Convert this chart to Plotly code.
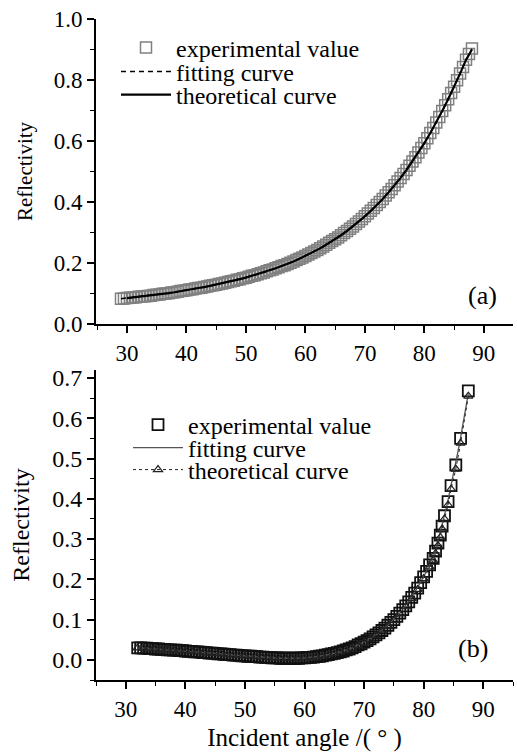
import numpy as np
import plotly.graph_objects as go

# ---------------- data: panel (a) ----------------
ang_a_exp = list(np.arange(29.0, 88.01, 0.5))
exp_a = [0.083, 0.084, 0.085, 0.086, 0.087, 0.088, 0.089, 0.090, 0.091, 0.092,
         0.093, 0.095, 0.096, 0.097, 0.099, 0.100, 0.101, 0.103, 0.104, 0.106,
         0.108, 0.109, 0.111, 0.113, 0.114, 0.116, 0.118, 0.119, 0.121, 0.123,
         0.125, 0.127, 0.129, 0.131, 0.133, 0.135, 0.138, 0.140, 0.142, 0.145,
         0.147, 0.150, 0.152, 0.155, 0.158, 0.160, 0.163, 0.166, 0.169, 0.173,
         0.176, 0.179, 0.183, 0.186, 0.190, 0.193, 0.197, 0.201, 0.205, 0.210,
         0.214, 0.218, 0.223, 0.228, 0.233, 0.238, 0.243, 0.248, 0.254, 0.260,
         0.266, 0.272, 0.278, 0.284, 0.291, 0.298, 0.305, 0.312, 0.320, 0.328,
         0.336, 0.344, 0.353, 0.362, 0.371, 0.380, 0.390, 0.400, 0.410, 0.421,
         0.432, 0.443, 0.455, 0.467, 0.479, 0.492, 0.505, 0.519, 0.533, 0.547,
         0.562, 0.577, 0.593, 0.609, 0.626, 0.643, 0.661, 0.679, 0.698, 0.717,
         0.737, 0.757, 0.778, 0.799, 0.821, 0.843, 0.866, 0.885, 0.903]

ang_a_fit = [29, 31, 33, 35, 37, 39, 41, 43, 45, 47, 49, 51, 53, 55, 57, 59, 61,
             63, 65, 67, 69, 71, 73, 75, 77, 79, 81, 83, 85, 87, 88]
fit_a = [0.083, 0.087, 0.091, 0.096, 0.101, 0.108, 0.114, 0.121, 0.129, 0.138,
         0.147, 0.158, 0.169, 0.183, 0.197, 0.214, 0.233, 0.254, 0.278, 0.305,
         0.336, 0.371, 0.410, 0.455, 0.505, 0.562, 0.626, 0.698, 0.778, 0.866, 0.902]

ang_a_theo = list(range(30, 89))
theo_a = [0.085, 0.087, 0.089, 0.091, 0.093, 0.096, 0.099, 0.101, 0.104, 0.108,
          0.111, 0.114, 0.118, 0.121, 0.125, 0.129, 0.133, 0.138, 0.142, 0.147,
          0.152, 0.158, 0.163, 0.169, 0.176, 0.183, 0.190, 0.197, 0.205, 0.214,
          0.223, 0.233, 0.243, 0.254, 0.266, 0.278, 0.291, 0.305, 0.320, 0.336,
          0.353, 0.371, 0.390, 0.410, 0.432, 0.455, 0.479, 0.505, 0.533, 0.562,
          0.593, 0.626, 0.661, 0.698, 0.737, 0.778, 0.821, 0.866, 0.900]

# ---------------- data: panel (b) ----------------
ang_b_exp = list(np.arange(32.0, 81.01, 0.5)) + [81.6, 82.0, 82.4, 82.8, 83.1, 83.5,
                                                 84.1, 84.6, 85.4, 86.2, 87.5]
exp_b = [0.030, 0.030, 0.029, 0.029, 0.028, 0.028, 0.027, 0.027, 0.026, 0.026,
         0.025, 0.025, 0.024, 0.024, 0.023, 0.023, 0.022, 0.021, 0.021, 0.020,
         0.020, 0.019, 0.018, 0.018, 0.017, 0.017, 0.016, 0.015, 0.015, 0.014,
         0.013, 0.013, 0.012, 0.012, 0.011, 0.010, 0.010, 0.009, 0.009, 0.008,
         0.008, 0.007, 0.007, 0.006, 0.006, 0.005, 0.005, 0.005, 0.004, 0.004,
         0.004, 0.004, 0.004, 0.004, 0.004, 0.005, 0.005, 0.006, 0.006, 0.007,
         0.008, 0.009, 0.010, 0.012, 0.013, 0.015, 0.016, 0.018, 0.020, 0.022,
         0.025, 0.027, 0.030, 0.033, 0.037, 0.040, 0.044, 0.048, 0.052, 0.057,
         0.062, 0.067, 0.073, 0.079, 0.086, 0.093, 0.100, 0.108, 0.116, 0.125,
         0.134, 0.144, 0.155, 0.166, 0.178, 0.192, 0.206, 0.220, 0.236,
         0.252, 0.270, 0.290, 0.310, 0.332, 0.358, 0.393, 0.433, 0.484, 0.550, 0.668]

ang_b_theo = list(range(32, 82)) + [81.6, 82.0, 82.4, 82.8, 83.1, 83.5,
                                    84.1, 84.6, 85.4, 86.2, 87.5]
theo_b = [0.030, 0.029, 0.028, 0.027, 0.026, 0.025, 0.024, 0.023, 0.022, 0.021,
          0.020, 0.018, 0.017, 0.016, 0.015, 0.013, 0.012, 0.011, 0.010, 0.009,
          0.008, 0.007, 0.006, 0.005, 0.004, 0.004, 0.004, 0.004, 0.005, 0.006,
          0.008, 0.010, 0.013, 0.016, 0.020, 0.024, 0.029, 0.036, 0.043, 0.051,
          0.061, 0.072, 0.084, 0.098, 0.114, 0.132, 0.152, 0.175, 0.202, 0.231,
          0.247, 0.264, 0.284, 0.304, 0.325, 0.350, 0.385, 0.424, 0.474, 0.538, 0.655]

ang_b_fit = [32, 34, 36, 38, 40, 42, 44, 46, 48, 50, 52, 54, 56, 58, 60, 62, 64,
             66, 68, 70, 72, 74, 76, 78, 80, 82, 84, 86, 87.5]
fit_b = [0.030, 0.028, 0.026, 0.024, 0.022, 0.020, 0.017, 0.015, 0.012, 0.010,
         0.008, 0.006, 0.004, 0.004, 0.005, 0.008, 0.013, 0.020, 0.030, 0.044,
         0.062, 0.086, 0.116, 0.155, 0.206, 0.270, 0.390, 0.535, 0.662]

labels = ["experimental value", "fitting curve", "theoretical curve"]

SERIF = "Liberation Serif"
W, H = 517, 752
ML, MR, MT, MB = 96, 4, 19, 72
PW, PH = W - ML - MR, H - MT - MB


def px(x):
    return (x - ML) / PW


def py(y):
    return (H - MB - y) / PH


fig = go.Figure()

# panel (a)
fig.add_trace(go.Scatter(x=ang_a_exp, y=exp_a, mode="markers", name=labels[0],
                         marker=dict(symbol="square-open", size=11, color="#808080",
                                     line=dict(width=1.5, color="#808080")),
                         xaxis="x", yaxis="y", legend="legend", showlegend=True))
fig.add_trace(go.Scatter(x=ang_a_fit, y=fit_a, mode="lines", name=labels[1],
                         line=dict(color="black", width=1.5, dash="5px,4px"),
                         xaxis="x", yaxis="y", legend="legend2", showlegend=True))
fig.add_trace(go.Scatter(x=ang_a_theo, y=theo_a, mode="lines", name=labels[2],
                         line=dict(color="black", width=2.2),
                         xaxis="x", yaxis="y", legend="legend3", showlegend=True))

# panel (b)
fig.add_trace(go.Scatter(x=ang_b_exp, y=exp_b, mode="markers", name=labels[0],
                         marker=dict(symbol="square-open", size=11, color="#111111",
                                     line=dict(width=1.8, color="#111111")),
                         xaxis="x2", yaxis="y2", legend="legend4", showlegend=True))
fig.add_trace(go.Scatter(x=ang_b_fit, y=fit_b, mode="lines", name=labels[1],
                         line=dict(color="#555555", width=1.3),
                         xaxis="x2", yaxis="y2", legend="legend5", showlegend=True))
fig.add_trace(go.Scatter(x=ang_b_theo, y=theo_b, mode="lines+markers", name=labels[2],
                         line=dict(color="#222222", width=1, dash="dot"),
                         marker=dict(symbol="triangle-up-open", size=8, color="#222222",
                                     line=dict(width=1.2, color="#222222")),
                         xaxis="x2", yaxis="y2", legend="legend6", showlegend=True))

axis_common = dict(showline=True, linecolor="black", linewidth=1.8, mirror=False,
                   ticks="outside", ticklen=7, tickwidth=1.5, tickcolor="black",
                   showgrid=False, zeroline=False, automargin=True,
                   tickfont=dict(family=SERIF, size=23, color="black"))

fig.update_layout(
    width=W, height=H, margin=dict(l=ML, r=MR, t=MT, b=MB, autoexpand=False),
    paper_bgcolor="white", plot_bgcolor="white", showlegend=True,
    font=dict(family=SERIF, color="black"),
    xaxis=dict(axis_common, domain=[0, 1], anchor="y", range=[24.8, 94.9],
               tick0=30, dtick=10,
               minor=dict(ticks="outside", ticklen=4, tickwidth=1.3, tickcolor="black",
                          tick0=25, dtick=5)),
    yaxis=dict(axis_common, domain=[py(324), 1], anchor="x", range=[0, 1],
               tick0=0, dtick=0.2, tickformat=".1f",
               minor=dict(ticks="outside", ticklen=4, tickwidth=1.3, tickcolor="black",
                          tick0=0, dtick=0.1),
               title=dict(text="Reflectivity", font=dict(family=SERIF, size=21),
                          standoff=15)),
    xaxis2=dict(axis_common, domain=[0, 1], anchor="y2", range=[25, 95],
                tick0=30, dtick=10,
                minor=dict(ticks="outside", ticklen=4, tickwidth=1.3, tickcolor="black",
                           tick0=25, dtick=5),
                title=dict(text="Incident angle /( \u00b0 )", font=dict(family=SERIF, size=25),
                           standoff=17)),
    yaxis2=dict(axis_common, domain=[0, py(370)], anchor="x2", range=[-0.05, 0.72],
                tick0=0, dtick=0.1, tickformat=".1f",
                tickfont=dict(family=SERIF, size=24, color="black"),
                minor=dict(ticks="outside", ticklen=4, tickwidth=1.3, tickcolor="black",
                           tick0=0, dtick=0.05),
                title=dict(text="Reflectivity", font=dict(family=SERIF, size=24),
                           standoff=16)),
    annotations=[
        dict(text="(a)", x=px(482), y=py(295), xref="paper", yref="paper",
             xanchor="center", yanchor="middle",
             showarrow=False, font=dict(family=SERIF, size=26, color="black")),
        dict(text="(b)", x=px(473), y=py(648), xref="paper", yref="paper",
             xanchor="center", yanchor="middle",
             showarrow=False, font=dict(family=SERIF, size=26, color="black")),
    ],
)

leg_common = dict(xanchor="left", yanchor="middle", bgcolor="rgba(0,0,0,0)",
                  borderwidth=0, itemwidth=50,
                  font=dict(family=SERIF, size=24, color="black"))
rows_a = [48, 72, 95]
rows_b = [425, 448, 470]
fig.update_layout(
    legend=dict(leg_common, x=px(116), y=py(rows_a[0])),
    legend2=dict(leg_common, x=px(116), y=py(rows_a[1])),
    legend3=dict(leg_common, x=px(116), y=py(rows_a[2])),
    legend4=dict(leg_common, x=px(128), y=py(rows_b[0])),
    legend5=dict(leg_common, x=px(128), y=py(rows_b[1])),
    legend6=dict(leg_common, x=px(128), y=py(rows_b[2])),
)

fig.write_html("out.html",
               config={"displayModeBar": False},
               post_script="document.body.style.margin='0px';"
                           "document.body.style.padding='0px';")
